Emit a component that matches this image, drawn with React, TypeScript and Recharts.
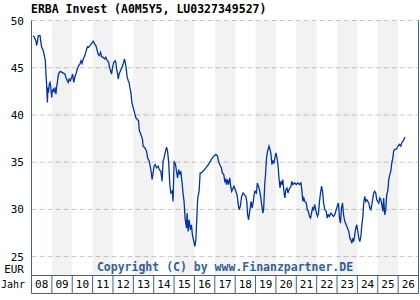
import React from 'react';
import { LineChart, Line, XAxis, YAxis, CartesianGrid, ReferenceArea, ReferenceLine } from 'recharts';

const times: number[] = [
  2008.09, 2008.14, 2008.22, 2008.25, 2008.30, 2008.33, 2008.42, 2008.45, 2008.50, 2008.58,
  2008.63, 2008.68, 2008.71, 2008.74, 2008.78, 2008.81, 2008.84, 2008.87, 2008.91, 2008.94,
  2008.99, 2009.02, 2009.07, 2009.12, 2009.17, 2009.20, 2009.23, 2009.27, 2009.31, 2009.36,
  2009.43, 2009.50, 2009.56, 2009.64, 2009.69, 2009.76, 2009.80, 2009.85, 2009.90, 2009.97,
  2010.02, 2010.05, 2010.08, 2010.12, 2010.18, 2010.25, 2010.31, 2010.38, 2010.43, 2010.48,
  2010.54, 2010.62, 2010.71, 2010.75, 2010.80, 2010.87, 2010.93, 2011.00, 2011.03, 2011.10,
  2011.16, 2011.23, 2011.27, 2011.32, 2011.39, 2011.44, 2011.52, 2011.59, 2011.65, 2011.72,
  2011.79, 2011.81, 2011.88, 2011.93, 2011.98, 2012.04, 2012.11, 2012.14, 2012.18, 2012.23,
  2012.26, 2012.30, 2012.37, 2012.44, 2012.50, 2012.57, 2012.63, 2012.70, 2012.75, 2012.79,
  2012.83, 2012.88, 2012.93, 2012.99, 2013.06, 2013.12, 2013.19, 2013.26, 2013.28, 2013.30,
  2013.37, 2013.45, 2013.48, 2013.56, 2013.65, 2013.70, 2013.78, 2013.86, 2013.92, 2013.97,
  2014.02, 2014.07, 2014.14, 2014.22, 2014.27, 2014.35, 2014.41, 2014.46, 2014.51, 2014.56,
  2014.63, 2014.68, 2014.73, 2014.79, 2014.84, 2014.91, 2014.95, 2015.00, 2015.07, 2015.12,
  2015.17, 2015.23, 2015.28, 2015.33, 2015.40, 2015.44, 2015.49, 2015.54, 2015.61, 2015.64,
  2015.69, 2015.74, 2015.80, 2015.85, 2015.90, 2015.97, 2016.02, 2016.07, 2016.11, 2016.16,
  2016.23, 2016.28, 2016.34, 2016.42, 2016.56, 2016.69, 2016.83, 2016.95, 2017.05, 2017.13,
  2017.18, 2017.24, 2017.32, 2017.37, 2017.44, 2017.49, 2017.54, 2017.57, 2017.62, 2017.67,
  2017.73, 2017.78, 2017.83, 2017.90, 2017.94, 2018.03, 2018.09, 2018.14, 2018.19, 2018.25,
  2018.32, 2018.39, 2018.45, 2018.52, 2018.57, 2018.61, 2018.66, 2018.71, 2018.78, 2018.83,
  2018.88, 2018.93, 2018.97, 2019.04, 2019.09, 2019.14, 2019.19, 2019.25, 2019.30, 2019.36,
  2019.40, 2019.45, 2019.49, 2019.54, 2019.59, 2019.66, 2019.71, 2019.76, 2019.80, 2019.85,
  2019.90, 2019.95, 2020.00, 2020.05, 2020.10, 2020.15, 2020.20, 2020.25, 2020.29, 2020.34,
  2020.39, 2020.44, 2020.49, 2020.54, 2020.59, 2020.64, 2020.69, 2020.74, 2020.78, 2020.83,
  2020.92, 2021.00, 2021.08, 2021.16, 2021.23, 2021.28, 2021.32, 2021.37, 2021.42, 2021.49,
  2021.54, 2021.59, 2021.65, 2021.70, 2021.75, 2021.80, 2021.85, 2021.90, 2021.94, 2021.99,
  2022.04, 2022.09, 2022.14, 2022.19, 2022.24, 2022.29, 2022.34, 2022.40, 2022.47, 2022.52,
  2022.57, 2022.63, 2022.70, 2022.76, 2022.83, 2022.89, 2022.96, 2023.01, 2023.06, 2023.09,
  2023.12, 2023.17, 2023.22, 2023.27, 2023.32, 2023.38, 2023.45, 2023.51, 2023.58, 2023.63,
  2023.68, 2023.73, 2023.78, 2023.82, 2023.87, 2023.92, 2023.97, 2024.02, 2024.07, 2024.12,
  2024.17, 2024.22, 2024.27, 2024.31, 2024.36, 2024.41, 2024.46, 2024.51, 2024.56, 2024.61,
  2024.66, 2024.71, 2024.76, 2024.80, 2024.85, 2024.90, 2024.95, 2025.00, 2025.05, 2025.10,
  2025.15, 2025.20, 2025.25, 2025.29, 2025.34, 2025.39, 2025.44, 2025.49, 2025.54, 2025.59,
  2025.64, 2025.69, 2025.74, 2025.78, 2025.83, 2025.90, 2025.95, 2026.00, 2026.06, 2026.13,
  2026.18, 2026.24, 2026.29, 2026.34,
];

const prices: number[] = [
  48.40, 48.23, 47.80, 47.34, 47.87, 48.40, 48.40, 47.87, 47.16, 46.81,
  46.28, 45.74, 44.33, 43.26, 41.31, 42.91, 42.38, 43.26, 43.44, 43.09,
  41.84, 42.55, 42.73, 42.38, 42.91, 42.20, 42.91, 43.44, 44.15, 44.50,
  44.61, 44.50, 44.43, 44.33, 43.97, 43.62, 43.44, 43.79, 43.62, 43.97,
  44.33, 43.79, 43.44, 43.97, 44.33, 44.86, 45.21, 45.39, 45.74, 45.46,
  45.92, 46.28, 46.99, 47.23, 47.16, 47.34, 47.52, 47.70, 47.80, 47.52,
  47.34, 46.81, 46.45, 46.28, 46.63, 46.17, 46.10, 45.92, 46.10, 45.74,
  45.57, 45.21, 44.68, 44.33, 45.04, 45.57, 45.74, 45.57, 44.86, 44.33,
  43.79, 44.33, 44.68, 45.04, 45.39, 45.92, 45.21, 43.97, 43.62, 43.44,
  42.91, 42.38, 41.31, 40.78, 40.25, 39.72, 39.54, 39.36, 38.65, 38.30,
  37.95, 37.41, 36.70, 36.53, 36.17, 35.46, 35.11, 34.22, 33.16, 33.87,
  34.58, 34.75, 34.40, 34.58, 34.22, 34.04, 32.98, 35.11, 35.46, 35.99,
  36.60, 36.17, 35.11, 32.63, 31.74, 31.92, 30.85, 35.11, 34.75, 34.04,
  33.34, 34.22, 33.69, 34.04, 32.63, 31.74, 30.85, 29.08, 28.02, 29.61,
  27.66, 28.90, 27.84, 28.37, 27.31, 26.60, 26.07, 26.78, 28.73, 31.21,
  31.92, 33.87, 33.87, 34.04, 34.40, 34.75, 35.29, 35.64, 35.82, 35.64,
  35.11, 34.75, 34.40, 33.87, 33.69, 32.98, 33.16, 32.63, 33.16, 32.63,
  33.34, 32.45, 31.92, 32.27, 32.45, 31.92, 31.56, 30.68, 29.97, 30.32,
  31.39, 31.74, 31.56, 31.39, 30.85, 29.43, 28.90, 29.79, 30.85, 30.14,
  30.68, 31.56, 31.92, 31.74, 32.80, 32.45, 32.09, 31.39, 30.50, 29.61,
  30.14, 32.63, 33.69, 35.46, 36.17, 36.70, 36.35, 35.82, 34.75, 35.11,
  34.93, 35.46, 35.99, 35.46, 34.75, 33.34, 32.27, 32.98, 32.63, 33.16,
  31.92, 31.21, 32.09, 32.27, 31.74, 32.09, 32.27, 32.45, 32.98, 32.63,
  32.80, 32.63, 32.80, 32.63, 32.80, 31.92, 30.85, 31.21, 30.85, 30.68,
  29.97, 29.79, 29.26, 29.08, 29.61, 30.14, 29.97, 30.50, 30.14, 29.61,
  29.26, 29.61, 30.85, 31.74, 32.45, 31.92, 30.68, 29.97, 29.79, 29.08,
  29.43, 29.26, 29.61, 29.43, 29.26, 29.43, 29.97, 30.32, 30.68, 30.14,
  29.08, 28.55, 30.14, 30.68, 29.43, 28.73, 28.37, 28.02, 27.66, 26.95,
  26.78, 26.42, 26.95, 26.60, 27.31, 28.02, 28.37, 27.66, 26.95, 26.60,
  27.13, 28.37, 29.26, 30.68, 31.39, 30.85, 31.03, 30.85, 30.68, 30.14,
  29.97, 30.50, 31.21, 31.74, 31.92, 31.74, 31.03, 30.85, 30.68, 31.21,
  31.03, 30.50, 29.79, 31.21, 29.43, 29.97, 31.56, 31.92, 33.16, 33.69,
  34.04, 34.93, 35.46, 36.17, 36.35, 36.35, 36.53, 36.70, 36.88, 36.70,
  37.06, 37.24, 37.41, 37.66,
];

const yearTicks: number[] = [2008, 2009, 2010, 2011, 2012, 2013, 2014, 2015, 2016, 2017, 2018, 2019, 2020, 2021, 2022, 2023, 2024, 2025, 2026, 2027];
const yearLabels: string[] = ['08', '09', '10', '11', '12', '13', '14', '15', '16', '17', '18', '19', '20', '21', '22', '23', '24', '25', '26'];
const shadedYears: number[] = [2009, 2011, 2013, 2015, 2017, 2019, 2021, 2023, 2025];
const priceTicks: number[] = [25, 30, 35, 40, 45, 50];

const data = times.map((t, i) => ({ t, v: prices[i] }));

const FONT = '"DejaVu Sans Mono", "Liberation Mono", monospace';
const BORDER = '#336699';
const W = 420;
const H = 300;
const M = { top: 20.5, right: 1.5, bottom: 6.5, left: 0 };
const Y_W = 31.5;
const PLOT_W = W - M.left - M.right - Y_W;
const CELL_W = PLOT_W / yearLabels.length;
const ROW_H = 18;

const YearTick = (props: any) => {
  const { x, y, index } = props;
  const label = yearLabels[index];
  return (
    <g>
      <line x1={x} y1={y} x2={x} y2={y + ROW_H} stroke={BORDER} strokeWidth={1} />
      {label !== undefined && (
        <>
          <line x1={x} y1={y + ROW_H} x2={x + CELL_W} y2={y + ROW_H} stroke={BORDER} strokeWidth={1} />
          <text x={x + CELL_W / 2} y={y + 12.5} textAnchor="middle" fontFamily={FONT} fontSize={11} fill="#000">
            {label}
          </text>
        </>
      )}
      {index === 0 && (
        <text x={x - 6.5} y={y + 12.5} textAnchor="end" fontFamily={FONT} fontSize={10} fill="#000">
          Jahr
        </text>
      )}
    </g>
  );
};

const PriceTick = (props: any) => {
  const { x, y, payload } = props;
  return (
    <g>
      <text x={x} y={y + 4} textAnchor="end" fontFamily={FONT} fontSize={11} fill="#000">
        {payload.value}
      </text>
      {payload.value === 25 && (
        <text x={x} y={y + 16} textAnchor="end" fontFamily={FONT} fontSize={11} fill="#000">
          EUR
        </text>
      )}
    </g>
  );
};

export default function App() {
  return (
    <div style={{ position: 'absolute', left: 0, top: 0, width: W, height: H, background: '#fff' }}>
      <LineChart width={W} height={H} data={data} margin={M}>
        {shadedYears.map((y) => (
          <ReferenceArea key={y} x1={y} x2={y + 1} fill="#000" fillOpacity={0.05} stroke="none" ifOverflow="visible" />
        ))}
        <CartesianGrid vertical={false} stroke="#c8c8c8" strokeDasharray="5 3" />
        <XAxis
          type="number"
          dataKey="t"
          domain={[2008, 2027]}
          ticks={yearTicks}
          interval={0}
          allowDataOverflow
          height={ROW_H}
          tickLine={false}
          tickSize={0}
          tickMargin={0}
          axisLine={{ stroke: BORDER, strokeWidth: 1 }}
          tick={<YearTick />}
        />
        <YAxis
          type="number"
          domain={[23, 50]}
          ticks={priceTicks}
          interval={0}
          allowDataOverflow
          width={Y_W}
          tickLine={false}
          tickSize={0}
          tickMargin={7.5}
          axisLine={{ stroke: BORDER, strokeWidth: 1 }}
          tick={<PriceTick />}
        />
        <ReferenceLine x={2027} stroke={BORDER} strokeWidth={1} ifOverflow="visible" />
        <Line
          type="linear"
          dataKey="v"
          stroke="#0033aa"
          strokeWidth={1.3}
          dot={false}
          activeDot={false}
          isAnimationActive={false}
        />
        <text x={31} y={13} fontFamily={FONT} fontSize={11.5} fontWeight="bold" fill="#000">
          ERBA Invest (A0M5Y5, LU0327349527)
        </text>
        <text x={225} y={271} textAnchor="middle" fontFamily={FONT} fontSize={11.5} fontWeight="bold" fill="#336699">
          Copyright (C) by www.Finanzpartner.DE
        </text>
      </LineChart>
    </div>
  );
}
